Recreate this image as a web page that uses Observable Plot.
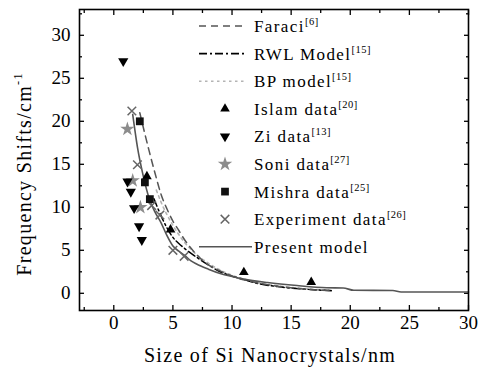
<!DOCTYPE html>
<html><head><meta charset="utf-8">
<script src="https://cdn.jsdelivr.net/npm/d3@7"></script>
<script src="https://cdn.jsdelivr.net/npm/@observablehq/plot@0.6"></script>
<style>body{margin:0;background:#fff} #chart{width:481px;height:369px}</style>
</head><body><div id="chart"></div>
<script>
// ---- tick values ----
const xTicks = [0, 5, 10, 15, 20, 25, 30];
const xMinor = [-2.5, 2.5, 7.5, 12.5, 17.5, 22.5, 27.5];
const yTicks = [0, 5, 10, 15, 20, 25, 30];
const yMinor = [2.5, 7.5, 12.5, 17.5, 22.5, 27.5, 32.5];

// ---- model curves ----
const presentX = [1.6, 2.0, 2.5, 3.0, 3.5, 4.0, 4.5, 5.0, 5.5, 6.0, 6.5, 7.0, 8.0, 9.0, 10.0, 11.0, 13.0, 15.5, 18.0, 19.4, 20.3, 23.6, 24.3, 30];
const presentY = [20.8, 17.0, 13.6, 11.0, 9.4, 8.2, 6.7, 5.5, 4.9, 4.4, 3.8, 3.4, 2.8, 2.3, 1.95, 1.65, 1.25, 0.9, 0.65, 0.62, 0.35, 0.32, 0.15, 0.15];
const faraciX = [2.2, 2.6, 3.0, 3.5, 4.0, 4.5, 5.0, 5.5, 6.0, 6.5, 7.0, 8.0, 9.0, 10.0, 12.0, 14.0, 16.0, 18.4];
const faraciY = [21.0, 18.7, 16.5, 13.9, 11.5, 9.8, 8.4, 7.3, 6.2, 5.3, 4.5, 3.3, 2.6, 2.0, 1.25, 0.8, 0.5, 0.3];
const rwlX = [3.4, 4.0, 4.5, 5.0, 5.5, 6.0, 7.0, 8.0, 9.0, 10.0, 11.0, 12.0, 14.0, 16.0, 18.4];
const rwlY = [11.0, 9.0, 7.6, 6.5, 5.8, 5.2, 4.2, 3.3, 2.5, 2.0, 1.6, 1.2, 0.75, 0.5, 0.3];
const bpX = [3.6, 4.0, 5.0, 6.0, 7.0, 8.0, 9.0, 10.0, 12.0, 14.0, 16.0, 18.4];
const bpY = [12.0, 10.6, 7.9, 5.9, 4.5, 3.5, 2.7, 2.1, 1.3, 0.85, 0.55, 0.35];

// ---- data points ----
const islamX = [2.8, 4.8, 11.0, 16.7];
const islamY = [13.6, 7.4, 2.45, 1.3];
const ziX = [0.8, 1.16, 1.44, 1.72, 2.14, 2.37];
const ziY = [27.0, 13.0, 11.8, 9.9, 7.8, 6.2];
const soniX = [1.15, 1.6, 2.25];
const soniY = [19.1, 13.1, 10.0];
const mishraX = [2.2, 2.63, 3.05];
const mishraY = [20.0, 12.9, 10.95];
const exptX = [1.53, 2.0, 3.2, 3.9, 5.0, 5.95];
const exptY = [21.2, 14.95, 10.2, 9.1, 5.0, 4.3];

const zip = (xs, ys) => xs.map((x, i) => ({x, y: ys[i]}));

// pick an installed Times-like serif font
function pickFont(cands) {
  const c = document.createElement("canvas").getContext("2d");
  const s = "Size of Si Nanocrystals mmmwwwiiilll 0123456789";
  c.font = "40px monospace"; const wm = c.measureText(s).width;
  for (const f of cands) {
    c.font = `40px "${f}", monospace`; const w1 = c.measureText(s).width;
    c.font = `40px "${f}", sans-serif`; const w2 = c.measureText(s).width;
    if (w1 === w2 && w1 !== wm) return f;
  }
  return null;
}
const picked = pickFont(["Liberation Serif", "Times New Roman", "Tinos", "Nimbus Roman", "Nimbus Roman No9 L", "FreeSerif", "Noto Serif", "DejaVu Serif"]);
const FONT = picked ? `"${picked}", serif` : "serif";

const sqrt3 = Math.sqrt(3);
const triangleDown = {
  draw(ctx, size) {
    const y = -Math.sqrt(size / (sqrt3 * 3));
    ctx.moveTo(0, -y * 2);
    ctx.lineTo(-sqrt3 * y, y);
    ctx.lineTo(sqrt3 * y, y);
    ctx.closePath();
  }
};

const chart = Plot.plot({
  width: 481, height: 369,
  marginLeft: 79, marginRight: 13, marginTop: 9, marginBottom: 59,
  x: {domain: [-2.9, 30]},
  y: {domain: [-2, 33]},
  style: {fontFamily: FONT, fontSize: "19px", background: "#fff", color: "#000"},
  marks: [
    Plot.axisX({ticks: xTicks, tickSize: -5, tickPadding: 10, fontSize: 19, label: null, strokeWidth: 1.3}),
    Plot.axisX({ticks: xMinor, tickSize: -3, tickFormat: () => "", label: null, strokeWidth: 1.3}),
    Plot.axisX({anchor: "top", ticks: xTicks, tickSize: -5, tickFormat: () => "", label: null, strokeWidth: 1.3}),
    Plot.axisX({anchor: "top", ticks: xMinor, tickSize: -3, tickFormat: () => "", label: null, strokeWidth: 1.3}),
    Plot.axisY({ticks: yTicks, tickSize: -5, tickPadding: 14, fontSize: 19, label: null, strokeWidth: 1.3}),
    Plot.axisY({ticks: yMinor, tickSize: -3, tickFormat: () => "", label: null, strokeWidth: 1.3}),
    Plot.axisY({anchor: "right", ticks: yTicks, tickSize: -5, tickFormat: () => "", label: null, strokeWidth: 1.3}),
    Plot.axisY({anchor: "right", ticks: yMinor, tickSize: -3, tickFormat: () => "", label: null, strokeWidth: 1.3}),
    Plot.line(zip(bpX, bpY), {x: "x", y: "y", stroke: "#b4b4b4", strokeWidth: 1.6, strokeDasharray: "2.5,3.5", curve: "monotone-x"}),
    Plot.line(zip(rwlX, rwlY), {x: "x", y: "y", stroke: "#000", strokeWidth: 1.5, strokeDasharray: "8,3,2,3", curve: "monotone-x"}),
    Plot.line(zip(faraciX, faraciY), {x: "x", y: "y", stroke: "#555", strokeWidth: 1.5, strokeDasharray: "7,5", curve: "monotone-x"}),
    Plot.line(zip(presentX, presentY), {x: "x", y: "y", stroke: "#555", strokeWidth: 1.6, curve: "monotone-x"}),
    Plot.dot(zip(exptX, exptY), {x: "x", y: "y", symbol: "times", r: 4, stroke: "#666", strokeWidth: 1.5}),
    Plot.dot(zip(soniX, soniY), {x: "x", y: "y", symbol: "star", r: 4.5, fill: "#8c8c8c", stroke: "none"}),
    Plot.dot(zip(ziX, ziY), {x: "x", y: "y", symbol: triangleDown, r: 3.8, fill: "#000", stroke: "none"}),
    Plot.dot(zip(islamX, islamY), {x: "x", y: "y", symbol: "triangle", r: 3.6, fill: "#000", stroke: "none"}),
    Plot.dot(zip(mishraX, mishraY), {x: "x", y: "y", symbol: "square", r: 4.4, fill: "#111", stroke: "none"}),
    Plot.frame({stroke: "#000", strokeWidth: 1.6})
  ]
});
document.getElementById("chart").appendChild(chart);
d3.select(chart).selectAll("text").style("font-family", FONT);

// ---- axis titles & legend ----
const svg = d3.select(chart);

svg.append("text")
  .attr("x", 270).attr("y", 362)
  .attr("text-anchor", "middle")
  .style("font-family", FONT).style("font-size", "20px").style("letter-spacing", "1.3px")
  .attr("fill", "#000")
  .text("Size of Si Nanocrystals/nm");

const yt = svg.append("text")
  .attr("transform", "translate(31,174) rotate(-90)")
  .attr("text-anchor", "middle")
  .style("font-family", FONT).style("font-size", "20px").style("letter-spacing", "1.3px")
  .attr("fill", "#000");
yt.append("tspan").text("Frequency Shifts/cm");
yt.append("tspan").attr("dy", -9).style("font-size", "12px").text("-1");

const legendNames = ["Faraci", "RWL Model", "BP model", "Islam data", "Zi data", "Soni data", "Mishra data", "Experiment data", "Present model"];
const legendRefs = ["[6]", "[15]", "[15]", "[20]", "[13]", "[27]", "[25]", "[26]", ""];
const legendKinds = [
  {line: true, stroke: "#555", dash: "7,5"},
  {line: true, stroke: "#000", dash: "8,3,2,3"},
  {line: true, stroke: "#b4b4b4", dash: "2.5,3.5"},
  {sym: d3.symbolTriangle, size: 40, fill: "#000"},
  {sym: triangleDown, size: 46, fill: "#000"},
  {sym: d3.symbolStar, size: 65, fill: "#8c8c8c"},
  {sym: d3.symbolSquare, size: 60, fill: "#111"},
  {sym: d3.symbolTimes, size: 50, stroke: "#666"},
  {line: true, stroke: "#555", dash: null, x2: 252}
];
const lg = svg.append("g").attr("text-anchor", "start");
legendNames.forEach((name, i) => {
  const base = 32 + i * 27.6;
  const cy = base - 6;
  const k = legendKinds[i];
  if (k.line) {
    lg.append("line").attr("x1", 199).attr("x2", k.x2 || 245).attr("y1", cy).attr("y2", cy)
      .attr("stroke", k.stroke).attr("stroke-width", 1.6)
      .attr("stroke-dasharray", k.dash);
  } else {
    lg.append("path").attr("transform", `translate(225,${cy})`)
      .attr("d", d3.symbol().type(k.sym).size(k.size)())
      .attr("fill", k.fill || "none").attr("stroke", k.stroke || "none").attr("stroke-width", 1.5);
  }
  const t = lg.append("text").attr("x", 254).attr("y", base)
    .attr("text-anchor", "start")
    .style("font-family", FONT).style("font-size", "17px").style("letter-spacing", "1.4px")
    .attr("fill", "#000");
  t.append("tspan").text(name);
  if (legendRefs[i]) t.append("tspan").attr("dy", -7).style("font-size", "10.5px").style("letter-spacing", "0.5px").text(legendRefs[i]);
});
</script>
</body></html>
